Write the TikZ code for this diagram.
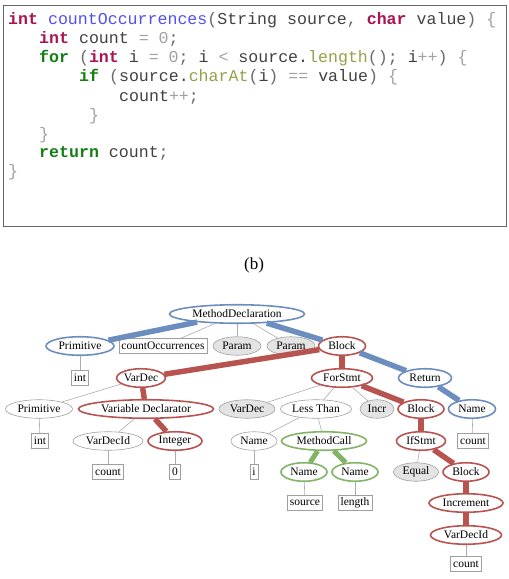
\documentclass[tikz,border=0pt]{standalone}
\usepackage{fontspec}
\setmainfont{Liberation Serif}
\setmonofont{Liberation Mono}
\usetikzlibrary{shapes.geometric}
\definecolor{kwred}{RGB}{170,20,80}
\definecolor{kwgreen}{RGB}{20,128,20}
\definecolor{fnblue}{RGB}{80,80,240}
\definecolor{olive}{RGB}{150,160,70}
\definecolor{txt}{RGB}{65,65,65}
\definecolor{opc}{RGB}{160,160,160}
\definecolor{pnc}{RGB}{105,105,105}
\definecolor{cblue}{RGB}{108,142,191}
\definecolor{cred}{RGB}{184,84,80}
\definecolor{cgreen}{RGB}{130,179,102}
\newcommand{\kr}[1]{\textcolor{kwred}{\bfseries #1}}
\newcommand{\kg}[1]{\textcolor{kwgreen}{\bfseries #1}}
\newcommand{\fb}[1]{\textcolor{fnblue}{#1}}
\newcommand{\ol}[1]{\textcolor{olive}{#1}}
\newcommand{\opx}[1]{\textcolor{opc}{#1}}
\newcommand{\pn}[1]{\textcolor{pnc}{#1}}
\tikzset{
  code/.style={anchor=base west, inner sep=0pt, text=txt, font=\ttfamily\fontsize{16.6}{19}\selectfont},
  tn/.style={font=\rmfamily\fontsize{11.5}{12}\selectfont, inner sep=0pt, text=black},
  el/.style={tn, ellipse, draw, fill=white, minimum height=18.5pt},
  bl/.style={el, draw=cblue, line width=1.6pt},
  rd/.style={el, draw=cred, line width=1.6pt},
  gn/.style={el, draw=cgreen, line width=1.6pt},
  gy/.style={el, draw=gray!75, fill=gray!22, line width=0.6pt},
  wh/.style={el, draw=gray!75, line width=0.6pt},
  bx/.style={tn, draw=gray!75, line width=0.6pt, inner xsep=2.5pt, minimum height=15pt},
  te/.style={draw=gray!65, line width=0.6pt},
  tb/.style={draw=cblue, line width=5.5pt},
  tr/.style={draw=cred, line width=5.5pt},
  tg/.style={draw=cgreen, line width=5pt},
}
\begin{document}
\begin{tikzpicture}[x=1pt,y=-1pt]
\useasboundingbox (0,0) rectangle (509,579);
% code box
\node[draw=gray!80!black, line width=0.8pt, minimum width=503pt, minimum height=221pt, inner sep=0pt, anchor=north west] (codebox) at (3.3,5) {};
\node[code] (l1) at (8,24.5) {\kr{int} \fb{countOccurrences}\pn{(}String source\pn{,} \kr{char} value\pn{)} \opx{\{}};
\node[code] (l2) at (39,43.5) {\kr{int} count \opx{=} \opx{0}\pn{;}};
\node[code] (l3) at (39,62.5) {\kg{for} \pn{(}\kr{int} i \opx{=} \opx{0}\pn{;} i \opx{<} source.\ol{length}\pn{()}\pn{;} i\opx{++}\pn{)} \opx{\{}};
\node[code] (l4) at (79,81.5) {\kg{if} \pn{(}source.\ol{charAt}\pn{(}i\pn{)} \opx{==} value\pn{)} \opx{\{}};
\node[code] (l5) at (119,101) {count\opx{++}\pn{;}};
\node[code] (l6) at (89,120) {\opx{\}}};
\node[code] (l7) at (39,139) {\opx{\}}};
\node[code] (l8) at (39,157.5) {\kg{return} count\pn{;}};
\node[code] (l9) at (8,176.5) {\opx{\}}};
% caption
\node[font=\rmfamily\fontsize{17}{18}\selectfont, inner sep=0pt] (cap) at (254,265) {(b)};
% tree nodes
\node[bl, minimum width=135pt] (md) at (237,314) {MethodDeclaration};
\node[bl, minimum width=68pt] (prim1) at (80,346) {Primitive};
\node[bx] (coc) at (163,346) {countOccurrences};
\node[gy, minimum width=48pt] (param1) at (237,346) {Param};
\node[gy, minimum width=48pt] (param2) at (291,346) {Param};
\node[rd, minimum width=47pt] (block1) at (342,346) {Block};
\node[bx] (int1) at (80,378) {int};
\node[rd, minimum width=48pt] (vardec) at (141,378) {VarDec};
\node[rd, minimum width=61pt] (forstmt) at (342,378) {ForStmt};
\node[bl, minimum width=53pt] (return) at (425,378) {Return};
\node[wh, minimum width=67pt] (prim2) at (39,409) {Primitive};
\node[rd, minimum width=135pt] (vdecl) at (146,409) {Variable Declarator};
\node[gy, minimum width=56pt] (vardec2) at (247,409) {VarDec};
\node[wh, minimum width=71pt] (less) at (316,409) {Less Than};
\node[gy, minimum width=34pt] (incr) at (377,409) {Incr};
\node[rd, minimum width=46pt] (block2) at (421,409) {Block};
\node[bl, minimum width=47pt] (name1) at (472,409) {Name};
\node[bx] (int2) at (40,441) {int};
\node[wh, minimum width=70pt] (vdid) at (108,441) {VarDecId};
\node[rd, minimum width=54pt] (integer) at (175,441) {Integer};
\node[wh, minimum width=46pt] (namei) at (254,441) {Name};
\node[gn, minimum width=85pt] (mcall) at (324,441) {MethodCall};
\node[rd, minimum width=49pt] (ifstmt) at (421,441) {IfStmt};
\node[bx] (count1) at (473,441) {count};
\node[bx] (count2) at (108,472) {count};
\node[bx] (zero) at (175,472) {0};
\node[bx] (irect) at (254,472) {i};
\node[gn, minimum width=46pt] (nsrc) at (304,472) {Name};
\node[gn, minimum width=46pt] (nlen) at (355,472) {Name};
\node[gy, minimum width=45pt] (equal) at (416,472) {Equal};
\node[rd, minimum width=46pt] (block3) at (466,472) {Block};
\node[bx] (source) at (305,503) {source};
\node[bx] (length) at (355,503) {length};
\node[rd, minimum width=74pt] (incrm) at (466,503) {Increment};
\node[rd, minimum width=71pt] (vdid2) at (466,535) {VarDecId};
\node[bx] (count3) at (466,564) {count};
% thin edges
\draw[te] (md) -- (coc);
\draw[te] (md) -- (param1);
\draw[te] (md) -- (param2);
\draw[te] (prim1) -- (int1);
\draw[te] (vardec) -- (prim2);
\draw[te] (prim2) -- (int2);
\draw[te] (vdecl) -- (vdid);
\draw[te] (vdid) -- (count2);
\draw[te] (integer) -- (zero);
\draw[te] (forstmt) -- (vardec2);
\draw[te] (forstmt) -- (less);
\draw[te] (forstmt) -- (incr);
\draw[te] (less) -- (namei);
\draw[te] (less) -- (mcall);
\draw[te] (namei) -- (irect);
\draw[te] (nsrc) -- (source);
\draw[te] (nlen) -- (length);
\draw[te] (ifstmt) -- (equal);
\draw[te] (name1) -- (count1);
\draw[te] (vdid2) -- (count3);
% thick edges
\draw[tb] (md) -- (prim1);
\draw[tb] (md) -- (block1);
\draw[tb] (block1) -- (return);
\draw[tb] (return) -- (name1);
\draw[tr] (block1) -- (vardec);
\draw[tr] (block1) -- (forstmt);
\draw[tr] (vardec) -- (vdecl);
\draw[tr] (vdecl) -- (integer);
\draw[tr] (forstmt) -- (block2);
\draw[tr] (block2) -- (ifstmt);
\draw[tr] (ifstmt) -- (block3);
\draw[tr] (block3) -- (incrm);
\draw[tr] (incrm) -- (vdid2);
\draw[tg] (mcall) -- (nsrc);
\draw[tg] (mcall) -- (nlen);
\end{tikzpicture}
\end{document}
